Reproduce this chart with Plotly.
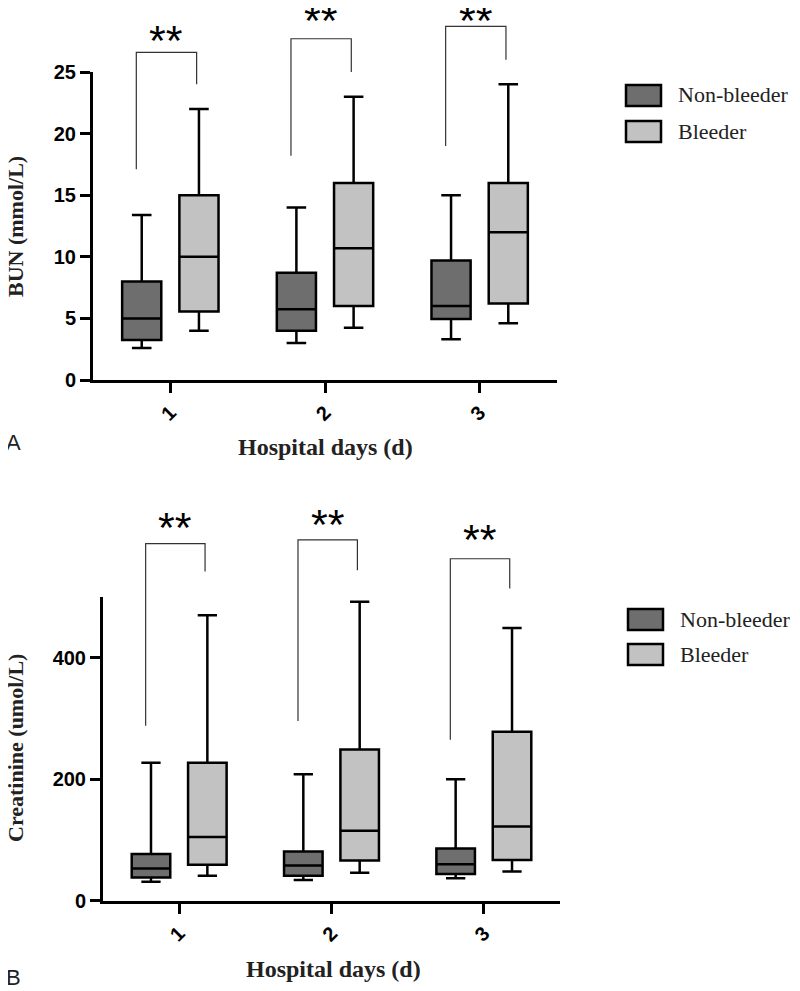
import plotly.graph_objects as go

# ---------------- data ----------------
days = ["1", "2", "3"]
groups = ["Non-bleeder", "Bleeder"]

# Panel A: BUN (mmol/L)
bun_nb_low = [2.6, 3.0, 3.3]
bun_nb_q1 = [3.25, 4.0, 4.95]
bun_nb_med = [5.0, 5.75, 6.0]
bun_nb_q3 = [8.0, 8.7, 9.7]
bun_nb_high = [13.4, 14.0, 15.0]

bun_b_low = [4.0, 4.25, 4.6]
bun_b_q1 = [5.55, 6.0, 6.2]
bun_b_med = [10.0, 10.7, 12.0]
bun_b_q3 = [15.0, 16.0, 16.0]
bun_b_high = [22.0, 23.0, 24.0]

# significance brackets (A): left foot, top, right foot (mmol/L)
bun_br_left = [17.1, 18.2, 19.0]
bun_br_top = [26.6, 27.7, 28.7]
bun_br_right = [24.0, 25.0, 26.0]
bun_star_y = [28.0, 29.6, 29.6]

# Panel B: Creatinine (umol/L)
cr_nb_low = [31, 34, 37]
cr_nb_q1 = [38, 41, 44]
cr_nb_med = [53, 58, 60]
cr_nb_q3 = [77, 81, 86]
cr_nb_high = [227, 208, 200]

cr_b_low = [41, 46, 48]
cr_b_q1 = [59, 66, 67]
cr_b_med = [105, 115, 122]
cr_b_q3 = [227, 249, 278]
cr_b_high = [470, 492, 449]

cr_br_left = [288, 296, 265]
cr_br_top = [588, 594, 563]
cr_br_right = [542, 544, 514]
cr_star_y = [624, 628, 603]

sig_labels = ["**", "**", "**"]

# ---------------- style ----------------
DARK = "#6e6e6e"
LIGHT = "#c2c2c2"
OFF = 8                 # page body margin of the browser
W, H = 800 - OFF, 991 - OFF

fig = go.Figure()


def add_boxes(xa, ya, nb, b):
    for name, vals, col in ((groups[0], nb, DARK), (groups[1], b, LIGHT)):
        low, q1, med, q3, high = vals
        fig.add_trace(go.Box(
            x=days, q1=q1, median=med, q3=q3, lowerfence=low, upperfence=high,
            name=name, fillcolor=col, line=dict(color="black", width=2.5),
            whiskerwidth=0.5, boxpoints=False, showlegend=False,
            offsetgroup=name, xaxis=xa, yaxis=ya, hoverinfo="skip"))


add_boxes("x", "y",
          (bun_nb_low, bun_nb_q1, bun_nb_med, bun_nb_q3, bun_nb_high),
          (bun_b_low, bun_b_q1, bun_b_med, bun_b_q3, bun_b_high))
add_boxes("x2", "y2",
          (cr_nb_low, cr_nb_q1, cr_nb_med, cr_nb_q3, cr_nb_high),
          (cr_b_low, cr_b_q1, cr_b_med, cr_b_q3, cr_b_high))


def px_x(p):
    return (p - OFF) / W


def px_y(p):
    return 1 - (p - OFF) / H


A_x = (93, 557)
A_y = (380, 72)     # pixel of y=0, y=25
B_x = (103, 560)
B_y = (900.7, 597)  # pixel of y=0, y=500
A_max, B_max = 25, 500

tick_font = dict(family="Liberation Sans, Arial", size=20, color="black", weight="bold")
axis_common = dict(showline=True, linewidth=3, linecolor="black", ticks="outside",
                   ticklen=10, tickwidth=3, tickcolor="black", showgrid=False,
                   zeroline=False, tickfont=tick_font, automargin=False)

fig.update_layout(
    width=W, height=H, margin=dict(l=0, r=0, t=0, b=0, autoexpand=False),
    paper_bgcolor="white", plot_bgcolor="white",
    boxmode="group", boxgap=0.26, boxgroupgap=0.316, showlegend=False,
    xaxis=dict(domain=[px_x(A_x[0]), px_x(A_x[1])], anchor="y", type="category",
               range=[-0.5, 2.5], tickangle=-45, **axis_common),
    yaxis=dict(domain=[px_y(A_y[0]), px_y(A_y[1])], anchor="x", range=[0, A_max],
               tickvals=[0, 5, 10, 15, 20, 25], **axis_common),
    xaxis2=dict(domain=[px_x(B_x[0]), px_x(B_x[1])], anchor="y2", type="category",
                range=[-0.5, 2.5], tickangle=-45, **axis_common),
    yaxis2=dict(domain=[px_y(B_y[0]), px_y(B_y[1])], anchor="x2", range=[0, B_max],
                tickvals=[0, 200, 400], **axis_common),
)

L_OFF, R_OFF = -0.22, 0.17
shapes = []
annotations = []


def add_brackets(xd, yd, ymax, left, top, right, stary):
    for i in range(len(days)):
        xl = (i + 0.5 + L_OFF) / 3
        xr = (i + 0.5 + R_OFF) / 3
        path = (f"M{xl},{left[i]/ymax} L{xl},{top[i]/ymax} "
                f"L{xr},{top[i]/ymax} L{xr},{right[i]/ymax}")
        shapes.append(dict(type="path", path=path, xref=xd, yref=yd,
                           line=dict(color="#333333", width=1.2)))
        annotations.append(dict(text=sig_labels[i], x=(xl + xr) / 2, y=stary[i] / ymax,
                                xref=xd, yref=yd, showarrow=False,
                                font=dict(family="Liberation Sans, Arial", size=43, color="black"),
                                yanchor="middle", xanchor="center", yshift=-5))


add_brackets("x domain", "y domain", A_max, bun_br_left, bun_br_top, bun_br_right, bun_star_y)
add_brackets("x2 domain", "y2 domain", B_max, cr_br_left, cr_br_top, cr_br_right, cr_star_y)


def add_legend(x0, y_tops, text_x):
    for name, col, yt in zip(groups, (DARK, LIGHT), y_tops):
        shapes.append(dict(type="rect", xref="paper", yref="paper",
                           x0=px_x(x0), x1=px_x(x0 + 35), y0=px_y(yt + 21), y1=px_y(yt),
                           fillcolor=col, line=dict(color="black", width=2.5)))
        annotations.append(dict(text=name, x=px_x(text_x), y=px_y(yt + 10), xref="paper",
                                yref="paper", xanchor="left", yanchor="middle", showarrow=False,
                                font=dict(family="Liberation Serif", size=22,
                                          color="#222222")))


add_legend(626, (85, 121), 676)
add_legend(628, (609, 644), 678)

serif_bold = dict(family="Liberation Serif", size=22, color="#222222", weight="bold")
serif_bold_x = dict(family="Liberation Serif", size=24, color="#222222", weight="bold")
texts = [
    ("BUN (mmol/L)", 15, 227, -90, serif_bold),
    ("Creatinine (umol/L)", 15, 748, -90, serif_bold),
    ("Hospital days (d)", 325, 447, 0, serif_bold_x),
    ("Hospital days (d)", 333, 969, 0, serif_bold_x),
    ("A", 13, 443, 0, dict(family="Liberation Sans, Arial", size=22, color="#222222")),
    ("B", 13, 977, 0, dict(family="Liberation Sans, Arial", size=22, color="#222222")),
]
for t, x, y, ang, f in texts:
    annotations.append(dict(text=t, x=px_x(x), y=px_y(y), xref="paper", yref="paper",
                            xanchor="center", yanchor="middle", textangle=ang,
                            showarrow=False, font=f))

fig.update_layout(shapes=shapes, annotations=annotations)
fig.write_html("out.html")
